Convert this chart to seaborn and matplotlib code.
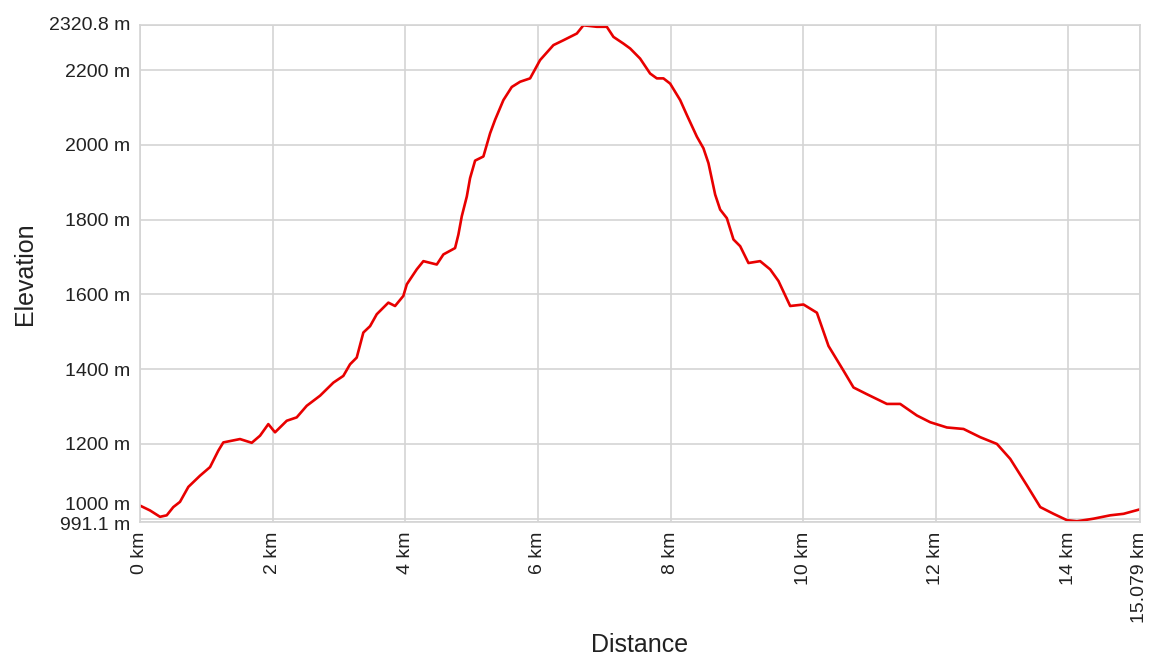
import matplotlib
matplotlib.use("Agg")
import matplotlib.pyplot as plt
import matplotlib.transforms as mtransforms
import seaborn as sns
import pandas as pd

# elevation profile (km, m)
distance_km = [
    0.0, 0.151, 0.302, 0.403, 0.502, 0.603, 0.729, 0.905, 1.056, 1.181,
    1.256, 1.508, 1.685, 1.810, 1.935, 2.036, 2.213, 2.363, 2.514, 2.715,
    2.916, 3.066, 3.167, 3.268, 3.368, 3.469, 3.570, 3.745, 3.846, 3.971,
    4.023, 4.173, 4.273, 4.475, 4.575, 4.751, 4.801, 4.852, 4.928, 4.977,
    5.053, 5.178, 5.279, 5.354, 5.480, 5.606, 5.732, 5.882, 6.033, 6.234,
    6.385, 6.587, 6.686, 6.888, 7.039, 7.139, 7.290, 7.391, 7.541, 7.692,
    7.793, 7.893, 7.994, 8.145, 8.246, 8.397, 8.496, 8.572, 8.673, 8.748,
    8.849, 8.949, 9.050, 9.175, 9.351, 9.502, 9.627, 9.804, 10.005, 10.207,
    10.382, 10.608, 10.759, 10.961, 11.262, 11.463, 11.715, 11.916, 12.167, 12.418,
    12.670, 12.921, 13.122, 13.374, 13.575, 13.775, 13.977, 14.128, 14.379, 14.631,
    14.831, 15.079,
]
elevation_m = [
    1035, 1022, 1005, 1009, 1031, 1045, 1085, 1115, 1138, 1182,
    1204, 1213, 1203, 1222, 1253, 1231, 1262, 1271, 1302, 1329,
    1364, 1382, 1413, 1431, 1498, 1515, 1547, 1578, 1569, 1596,
    1627, 1667, 1689, 1680, 1707, 1724, 1760, 1809, 1862, 1911,
    1958, 1969, 2031, 2067, 2120, 2155, 2169, 2178, 2227, 2267,
    2280, 2298, 2320, 2316, 2316, 2289, 2271, 2258, 2231, 2191,
    2178, 2178, 2164, 2120, 2080, 2022, 1991, 1951, 1867, 1827,
    1804, 1747, 1729, 1684, 1689, 1667, 1636, 1569, 1573, 1551,
    1462, 1396, 1351, 1333, 1307, 1307, 1276, 1258, 1244, 1240,
    1218, 1200, 1160, 1089, 1031, 1013, 996, 993, 1000, 1009,
    1013, 1025,
]

x_ticks = [0, 2, 4, 6, 8, 10, 12, 14, 15.079]
x_labels = ["0 km", "2 km", "4 km", "6 km", "8 km", "10 km", "12 km", "14 km", "15.079 km"]
y_ticks = [991.1, 1000, 1200, 1400, 1600, 1800, 2000, 2200, 2320.8]
y_labels = ["991.1 m", "1000 m", "1200 m", "1400 m", "1600 m", "1800 m", "2000 m", "2200 m", "2320.8 m"]

sns.set_style("whitegrid")
plt.rcParams["font.family"] = ["Liberation Sans", "DejaVu Sans"]

df = pd.DataFrame({"Distance": distance_km, "Elevation": elevation_m})

fig = plt.figure(figsize=(11.49, 6.55), dpi=100)
ax = fig.add_axes([140 / 1149, 133 / 655, 1000 / 1149, 497 / 655])

sns.lineplot(data=df, x="Distance", y="Elevation", ax=ax, color="#e80000", linewidth=1.9)

ax.set_xlim(0, 15.079)
ax.set_ylim(991.1, 2320.8)
ax.set_xticks(x_ticks)
ax.set_xticklabels(x_labels, rotation=90, fontsize=14, color="#222222")
ax.set_yticks(y_ticks)
ax.set_yticklabels(y_labels, fontsize=14, color="#222222")
ax.tick_params(length=0, pad=7)
ax.grid(True, color="#d4d4d4", linewidth=1.2)
for s in ax.spines.values():
    s.set_color("#d4d4d4")
    s.set_linewidth(1.2)

# nudge the two crowded bottom labels apart like the original
labels = ax.get_yticklabels()
shift_up = {0: -0.01, 1: 0.15, 8: 0.02}
for i, dy in shift_up.items():
    labels[i].set_transform(labels[i].get_transform()
                            + mtransforms.ScaledTranslation(0, dy, fig.dpi_scale_trans))

ax.set_xlabel("Distance", fontsize=18, color="#222222")
ax.set_ylabel("Elevation", fontsize=18, color="#222222")
ax.xaxis.set_label_coords(0.5, -0.223)
ax.yaxis.set_label_coords(-0.103, 0.5)

fig.savefig("out.png", dpi=100)
